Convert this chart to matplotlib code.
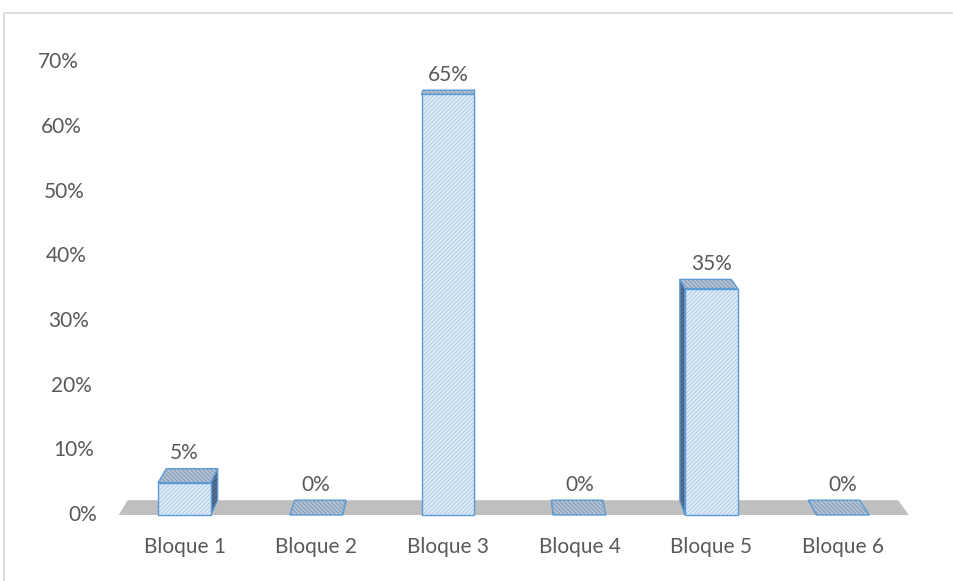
import matplotlib
matplotlib.use("Agg")
import matplotlib.pyplot as plt
from matplotlib.patches import Polygon, Rectangle

categories = ["Bloque 1", "Bloque 2", "Bloque 3", "Bloque 4", "Bloque 5", "Bloque 6"]
values = [5, 0, 65, 0, 35, 0]
value_labels = ["5%", "0%", "65%", "0%", "35%", "0%"]
yticks = [0, 10, 20, 30, 40, 50, 60, 70]

# perspective: back point = front + T * (vanishing point - front)
VP_X, VP_Y = 2.26, 91.5
T = 0.025
BAR_W = 0.4

TEXT = "#595959"
EDGE = "#5b9bd5"
FRONT = "#deebf7"
FRONT_HATCH = "#a7c8e8"
TOP = "#b3c3d6"
TOP_HATCH = "#7d92ae"
SIDE = "#5a7090"
SIDE_HATCH = "#3c5272"
FLOOR = "#bfbfbf"

plt.rcParams["font.family"] = ["Lato", "DejaVu Sans"]
plt.rcParams["hatch.linewidth"] = 0.6


def back(x, y):
    return (x + T * (VP_X - x), y + T * (VP_Y - y))


def face(ax, pts, fill, hatch, hatch_col, z):
    ax.add_patch(Polygon(pts, closed=True, facecolor=fill, edgecolor=hatch_col,
                         hatch=hatch, linewidth=0, zorder=z))
    ax.add_patch(Polygon(pts, closed=True, facecolor="none", edgecolor=EDGE,
                         linewidth=1.0, joinstyle="round", zorder=z + 0.1))


fig = plt.figure(figsize=(9.54, 5.81), dpi=100)
ax = fig.add_axes([0, 0, 1, 1])
ax.set_xlim(-1.401, 5.843)
ax.set_ylim(-10.2, 79.6)
ax.axis("off")

# chart border
fig.patches.append(Rectangle((4 / 954, -0.1), 1.2, 1.1 - 13 / 581, transform=fig.transFigure,
                             facecolor="none", edgecolor="#d9d9d9", linewidth=1.2))

# floor
x_lo, x_hi = -0.5, len(categories) - 0.5
floor = [(x_lo, 0), (x_hi, 0), back(x_hi, 0), back(x_lo, 0)]
ax.add_patch(Polygon(floor, closed=True, facecolor=FLOOR, edgecolor="none", zorder=1))

for i, (v, lab) in enumerate(zip(values, value_labels)):
    x0, x1 = i - BAR_W / 2, i + BAR_W / 2
    if VP_X > x1:
        side = [(x1, 0), back(x1, 0), back(x1, v), (x1, v)]
        face(ax, side, SIDE, "////////", SIDE_HATCH, 2)
    elif VP_X < x0:
        side = [(x0, 0), back(x0, 0), back(x0, v), (x0, v)]
        face(ax, side, SIDE, "////////", SIDE_HATCH, 2)
    top = [(x0, v), (x1, v), back(x1, v), back(x0, v)]
    face(ax, top, TOP, "\\\\\\\\\\\\\\\\", TOP_HATCH, 3)
    if v > 0:
        front = [(x0, 0), (x1, 0), (x1, v), (x0, v)]
        face(ax, front, FRONT, "////////", FRONT_HATCH, 4)
    ax.text(i, back(x0, v)[1] + 0.8, lab, ha="center", va="bottom",
            fontsize=15, color=TEXT, zorder=6)

# y tick labels follow the slanted wall edge
for t in yticks:
    ax.text(-0.664 - 0.137 * t / 70, t, f"{t}%", ha="right", va="center",
            fontsize=15, color=TEXT)

for i, c in enumerate(categories):
    ax.text(i, -4.95, c, ha="center", va="center", fontsize=15, color=TEXT)

fig.savefig("out.png", dpi=100)
